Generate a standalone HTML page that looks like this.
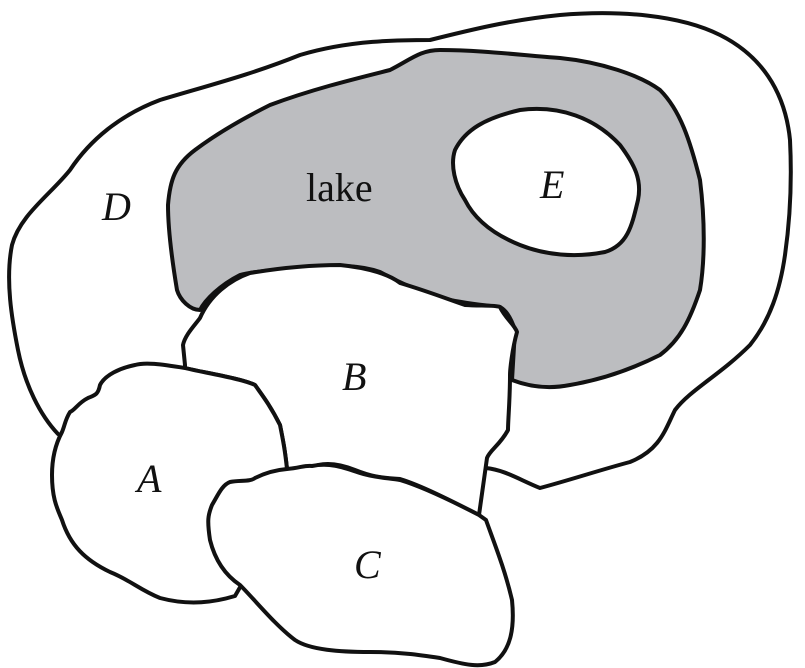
<!DOCTYPE html>
<html><head><style>html,body{margin:0;padding:0;background:#fff}svg{display:block}</style></head><body>
<svg width="805" height="668" viewBox="0 0 805 668" xmlns="http://www.w3.org/2000/svg" fill="none" stroke="#111" stroke-width="4" stroke-linejoin="round" stroke-linecap="round">
<path d="M58,434 C40,415 25,385 18,350 C12,320 5,280 12,245 C20,215 50,195 70,170 C90,140 120,115 160,100 C210,85 250,75 300,55 C350,40 400,40 430,40 C470,30 510,20 560,15 C620,10 680,15 720,35 C760,55 785,90 790,140 C792,180 790,220 785,255 C780,290 770,320 750,345 C720,375 690,390 675,410 C665,430 660,450 630,462 C600,470 570,480 540,488 C520,480 505,470 486,468"/>
<path fill="#bcbdc0" d="M200,310 C190,310 180,300 177,290 C172,260 168,230 168,205 C170,180 175,165 195,150 C215,135 240,120 270,105 C310,90 350,80 390,70 C410,60 420,50 440,50 C480,50 520,55 560,58 C600,62 640,75 660,90 C680,110 690,140 700,180 C705,220 705,260 700,290 C690,320 680,340 660,355 C630,370 600,380 570,385 C545,390 525,385 512,380 L515,330 C510,315 505,310 500,307 C480,305 465,303 450,300 C420,292 400,283 380,272 C360,265 340,265 300,268 C270,270 250,272 240,275 C220,285 205,300 200,310 Z"/>
<path fill="#fff" d="M455,150 C465,130 485,118 520,110 C560,105 595,118 620,145 C635,165 642,180 638,200 C632,225 628,245 605,252 C575,258 545,255 520,245 C495,235 475,220 465,200 C455,185 450,165 455,150 Z"/>
<path fill="#fff" d="M185,365 L183,345 C185,335 195,325 200,318 C210,295 230,280 250,273 C280,268 310,265 340,265 C370,268 390,275 400,283 C430,292 450,300 465,305 C480,306 495,305 500,307 C505,318 515,325 517,332 C512,350 510,370 510,375 C510,400 508,420 508,430 C500,445 490,450 487,458 L479,515 C450,500 420,485 400,479 C380,478 370,476 355,470 C335,462 320,463 310,468 L287,469 C285,450 283,440 280,425 C270,405 262,395 255,385 C240,378 200,372 185,368 Z"/>
<path fill="#fff" d="M185,368 C160,364 145,362 135,365 C120,368 105,375 100,385 C98,395 95,395 88,398 C78,403 75,410 70,412 C65,420 65,425 62,432 C55,445 52,460 52,475 C52,500 58,510 62,520 C70,545 85,560 110,572 C130,580 140,590 160,598 C190,606 215,602 235,596 L290,500 L287,469 C285,450 283,440 280,425 C270,405 262,395 255,385 C240,378 200,372 185,368 Z"/>
<path fill="#fff" d="M287,469 C300,468 305,465 312,466 C330,462 345,468 360,473 C375,478 390,478 400,480 C420,486 450,500 479,515 L486,520 C495,545 505,570 512,600 C515,630 510,650 495,662 C480,668 465,665 440,658 C420,655 400,652 370,652 C340,652 310,650 295,640 C275,625 255,600 240,585 C225,575 215,560 210,540 C207,520 208,515 212,505 C218,495 222,485 230,482 C240,480 250,482 255,478 C265,473 275,470 287,469 Z"/>
<g stroke="none" fill="#111" font-family="Liberation Serif, serif" font-size="40">
<text x="102" y="220" font-style="italic">D</text>
<text x="306" y="201">lake</text>
<text x="540" y="198" font-style="italic">E</text>
<text x="342" y="390" font-style="italic">B</text>
<text x="137" y="492" font-style="italic">A</text>
<text x="354" y="578" font-style="italic">C</text>
</g>
</svg>
</body></html>
